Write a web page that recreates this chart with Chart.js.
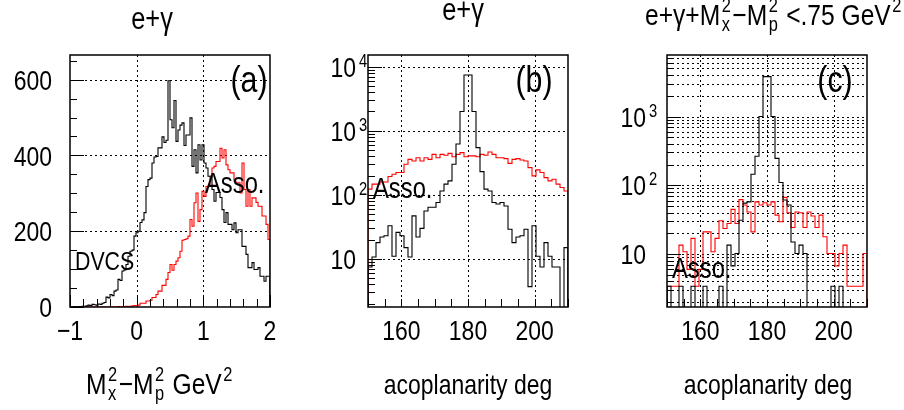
<!DOCTYPE html>
<html><head><meta charset="utf-8">
<script src="https://cdn.jsdelivr.net/npm/chart.js@4/dist/chart.umd.min.js"></script>
<style>
html,body{margin:0;padding:0;background:#fff;width:904px;height:410px;overflow:hidden}
canvas{position:absolute;top:0}
</style></head><body>
<canvas id="pa" style="left:0px" width="300" height="410"></canvas>
<canvas id="pb" style="left:300px" width="300" height="410"></canvas>
<canvas id="pc" style="left:600px" width="304" height="410"></canvas>
<script>
// ---------------- data ----------------
const massRange = [-1, 2];          // Mx^2 - Mp^2 (GeV^2), 100 bins
const dvcsCounts = [
  0,0,1,0,1,1,2,2,3,5,
  4,7,6,5,8,7,10,12,26,24,
  33,30,42,45,73,70,95,98,112,134,
  147,150,187,196,200,223,230,249,318,336,
  340,380,396,397,420,420,449,434,440,597,
  494,473,545,437,467,480,486,426,454,454,
  499,371,415,354,428,388,428,380,367,345,
  345,310,279,302,302,289,257,223,249,218,
  218,204,222,196,204,204,160,160,139,104,
  104,117,99,99,104,81,81,68,81,81];
const assoCounts = [
  0,0,0,0,0,0,0,0,0,0,
  0,0,0,0,0,0,0,0,0,0,
  0,0,0,0,1,0,1,1,2,1,
  2,3,4,4,5,10,10,10,16,16,
  18,25,25,33,42,42,57,57,73,91,
  112,97,112,121,130,147,176,178,180,187,
  231,213,275,301,226,257,305,292,318,318,
  345,367,371,384,384,419,393,415,375,362,
  354,354,332,328,328,301,380,310,266,310,
  266,288,288,276,266,266,240,240,218,178];
const acopRange = [150, 210];       // acoplanarity (deg), 50 bins
const acopAll = [
  7.5,10.7,18,22,23,33,11,26,23,15,
  10.7,47,22,30,56,64,64,76,115,147,
  165,300,620,2000,7400,7400,2000,545,230,123,
  115,76,72,76,67,29,18,22,23,29,
  3.7,33,11,7.5,18,11,7.5,7.5,1,15];
const acopAsso = [
  123,147,147,159,159,193,210,223,223,300,
  358,337,380,337,380,358,428,380,428,414,
  444,394,428,456,394,405,405,394,428,414,
  466,428,380,380,367,310,358,367,349,337,
  266,198,245,223,186,165,175,147,130,115];
const acopCutAll = [
  3.4,0,0,3.4,0,0,3.4,0,0,3.4,
  0,0,0,3.4,0,13.5,6.7,10.2,31,55,
  57.5,145,265,1000,3800,3800,1000,246,110,61,
  51.6,15,10.2,13.5,10.2,0,0,0,0,0,
  0,3.4,0,3.4,0,0,0,0,0,0];
const acopCutAsso = [
  3.4,3.4,3.4,13.5,10.8,6.0,16.9,3.4,6.0,21,
  21,10.8,16.9,30.5,23.6,27.9,44.6,27.9,62,51.6,
  41,21,57.5,51.6,55.7,51.6,57.5,36.9,29.5,66.7,
  39.8,24.4,41,39.8,24.4,41,35.7,24.4,36.9,17.9,
  10.2,10.2,6.7,10.2,13.5,3.4,3.4,3.4,3.4,10.2];
const massTicks = [-1, 0, 1, 2];
const massTickLabels = ['\u22121', '0', '1', '2'];
const countTicks = [0, 200, 400, 600];
const acopTicks = [160, 180, 200];
const logTicksB = [10, 100, 1000, 10000];
const logTicksC = [10, 100, 1000];

// ---------------- fonts ----------------
let FAM = "'Liberation Sans Narrow', 'Liberation Sans', Arial, sans-serif", SX = 1;
(function () {
  const c = document.createElement('canvas').getContext('2d');
  c.font = "40px 'Liberation Sans Narrow', monospace";
  const a = c.measureText('acoplanarity 0123').width;
  c.font = "40px monospace";
  const b = c.measureText('acoplanarity 0123').width;
  if (Math.abs(a - b) < 0.5) { FAM = "'Liberation Sans', Arial, sans-serif"; SX = 0.82; }
})();
function tw(ctx, s, size) { ctx.font = size + 'px ' + FAM; return ctx.measureText(s).width * SX; }
function dt(ctx, s, x, base, size) {
  ctx.save(); ctx.font = size + 'px ' + FAM; ctx.textAlign = 'left'; ctx.textBaseline = 'alphabetic';
  ctx.fillStyle = '#000'; ctx.translate(x, base); ctx.scale(SX, 1); ctx.fillText(s, 0, 0); ctx.restore();
}
// parts: strings, or {sup, sub} stacked
function rich(ctx, parts, x, base, size, align) {
  const sm = Math.round(size * 0.66);
  const w = parts.map(p => typeof p === 'string' ? tw(ctx, p, size)
    : Math.max(p.sub ? tw(ctx, p.sub, sm) : 0, p.sup ? tw(ctx, p.sup, sm) : 0) + 3);
  const total = w.reduce((a, b) => a + b, 0);
  let cx = align === 'center' ? x - total / 2 : align === 'right' ? x - total : x;
  parts.forEach((p, i) => {
    if (typeof p === 'string') dt(ctx, p, cx, base, size);
    else {
      if (p.sup) dt(ctx, p.sup, cx + 1.5, base - size * 0.45, sm);
      if (p.sub) dt(ctx, p.sub, cx + 1.5, base + size * 0.2, sm);
    }
    cx += w[i];
  });
}

// ---------------- helpers ----------------
function hist(counts, range, color, isLog) {
  const n = counts.length, lo = range[0], hi = range[1], w = (hi - lo) / n;
  const floor = isLog ? 1e-3 : 0;
  const f = v => (isLog && v <= 0) ? floor : v;
  const pts = [{ x: lo, y: floor }];
  counts.forEach((v, i) => pts.push({ x: lo + i * w, y: f(v) }));
  pts.push({ x: hi, y: f(counts[n - 1]) });
  pts.push({ x: hi, y: floor });
  return { data: pts, borderColor: color, borderWidth: 1.1, stepped: 'before',
           pointRadius: 0, fill: false, tension: 0 };
}
function logVals(min, max) {
  const out = [];
  for (let e = Math.floor(Math.log10(min)); e <= Math.ceil(Math.log10(max)); e++)
    for (let d = 1; d <= 9; d++) { const v = d * Math.pow(10, e); if (v >= min && v <= max) out.push({ v, major: d === 1 }); }
  return out;
}
function seq(a, b, s) { const o = []; for (let v = a; v <= b + 1e-9; v += s) o.push(+v.toFixed(6)); return o; }

const FS = 28;
const panelPlugin = {
  id: 'panel',
  beforeDatasetsDraw(chart, args, o) {
    const { ctx, chartArea: a, scales: { x, y } } = chart;
    ctx.save(); ctx.strokeStyle = '#000'; ctx.lineWidth = 1; ctx.setLineDash([2, 3]);
    o.gridX.forEach(v => { const p = Math.round(x.getPixelForValue(v)) + 0.5;
      ctx.beginPath(); ctx.moveTo(p, a.top); ctx.lineTo(p, a.bottom); ctx.stroke(); });
    o.gridY.forEach(v => { const p = Math.round(y.getPixelForValue(v)) + 0.5;
      ctx.beginPath(); ctx.moveTo(a.left, p); ctx.lineTo(a.right, p); ctx.stroke(); });
    ctx.restore();
  },
  afterDatasetsDraw(chart, args, o) {
    const { ctx, chartArea: a, scales: { x, y } } = chart;
    ctx.save(); ctx.strokeStyle = '#000'; ctx.setLineDash([]);
    ctx.lineWidth = 1;
    o.yTicks.forEach(t => { const p = Math.round(y.getPixelForValue(t.v)) + 0.5;
      ctx.beginPath(); ctx.moveTo(a.left, p); ctx.lineTo(a.left + (t.major ? 14 : 7), p); ctx.stroke(); });
    o.xTicks.forEach(t => { const p = Math.round(x.getPixelForValue(t.v)) + 0.5;
      ctx.beginPath(); ctx.moveTo(p, a.bottom); ctx.lineTo(p, a.bottom - (t.major ? 12 : 8)); ctx.stroke(); });
    ctx.lineWidth = 1.5;
    ctx.strokeRect(a.left, a.top, a.right - a.left, a.bottom - a.top);
    ctx.restore();
    // tick labels
    o.xLabels.forEach(t => rich(ctx, [t.text], x.getPixelForValue(t.v), 340, FS, 'center'));
    if (o.yLog) {
      o.yLabels.forEach(v => {
        const p = y.getPixelForValue(v), base = p + FS * 0.36;
        const e = Math.round(Math.log10(v));
        const rx = a.left - o.baseGap;
        dt(ctx, '10', rx - tw(ctx, '10', FS), base, FS);
        if (e > 1) dt(ctx, String(e), rx + 3, base - 10, 18);
      });
    } else {
      o.yLabels.forEach(v => rich(ctx, [String(v)], a.left - 18, y.getPixelForValue(v) + FS * 0.36, FS, 'right'));
    }
    // titles and notes
    o.texts.forEach(t => rich(ctx, t.parts, t.x, t.base, t.size || FS, t.align || 'left'));
  }
};

function makeChart(id, cfg) {
  return new Chart(document.getElementById(id), {
    type: 'line',
    data: { datasets: cfg.datasets },
    options: {
      responsive: false, animation: false, events: [],
      layout: { padding: { left: 0, right: cfg.rightPad, top: 55, bottom: 0 } },
      plugins: { legend: { display: false }, tooltip: { enabled: false }, panel: cfg.panel },
      scales: {
        x: { type: 'linear', min: cfg.xMin, max: cfg.xMax, grid: { display: false }, border: { display: false },
             ticks: { display: false }, afterFit: s => { s.height = 103; } },
        y: { type: cfg.yType, min: cfg.yMin, max: cfg.yMax, grid: { display: false }, border: { display: false },
             ticks: { display: false }, afterFit: s => { s.width = cfg.leftW; } }
      }
    },
    plugins: [panelPlugin]
  });
}

// ---------- panel (a) ----------
makeChart('pa', {
  xMin: massRange[0], xMax: massRange[1], yType: 'linear', yMin: 0, yMax: 665, leftW: 70, rightPad: 30,
  datasets: [hist(dvcsCounts, massRange, '#000', false), hist(assoCounts, massRange, '#ff0000', false)],
  panel: {
    gridX: [0, 1], gridY: [200, 400, 600],
    yTicks: seq(0, 650, 50).map(v => ({ v, major: v % 200 === 0 })),
    xTicks: seq(-1, 2, 0.2).map(v => ({ v, major: Math.abs(v - Math.round(v)) < 1e-6 })),
    xLabels: massTicks.map((v, i) => ({ v, text: massTickLabels[i] })),
    yLog: false, yLabels: countTicks,
    texts: [
      { parts: ['e+\u03b3'], x: 152, base: 29, size: 31, align: 'center' },
      { parts: ['M', { sub: 'x', sup: '2' }, '\u2212M', { sub: 'p', sup: '2' }, ' GeV', { sup: '2' }], x: 160, base: 394, size: 30, align: 'center' },
      { parts: ['(a)'], x: 249, base: 92, size: 37, align: 'center' },
      { parts: ['Asso.'], x: 205, base: 193, size: 29 },
      { parts: ['DVCS'], x: 75, base: 270, size: 26 }
    ]
  }
});

// ---------- panel (b) ----------
const lvB = logVals(1.78, 15200);
makeChart('pb', {
  xMin: acopRange[0], xMax: acopRange[1], yType: 'logarithmic', yMin: 1.78, yMax: 15200, leftW: 68, rightPad: 32,
  datasets: [hist(acopAll, acopRange, '#000', true), hist(acopAsso, acopRange, '#ff0000', true)],
  panel: {
    gridX: acopTicks, gridY: logTicksB, baseGap: 12,
    yTicks: lvB, xTicks: seq(150, 210, 5).map(v => ({ v, major: false })),
    xLabels: acopTicks.map(v => ({ v, text: String(v) })),
    yLog: true, yLabels: logTicksB,
    texts: [
      { parts: ['e+\u03b3'], x: 163, base: 20, size: 31, align: 'center' },
      { parts: ['acoplanarity deg'], x: 168, base: 394, align: 'center' },
      { parts: ['(b)'], x: 234, base: 92, size: 37, align: 'center' },
      { parts: ['Asso.'], x: 73, base: 198, size: 29 }
    ]
  }
});

// ---------- panel (c) ----------
const lvC = logVals(1.7, 7850);
makeChart('pc', {
  xMin: acopRange[0], xMax: acopRange[1], yType: 'logarithmic', yMin: 1.7, yMax: 7850, leftW: 67, rightPad: 37,
  datasets: [hist(acopCutAll, acopRange, '#000', true), hist(acopCutAsso, acopRange, '#ff0000', true)],
  panel: {
    gridX: acopTicks, gridY: lvC.map(t => t.v), baseGap: 21,
    yTicks: lvC, xTicks: seq(150, 210, 5).map(v => ({ v, major: false })),
    xLabels: acopTicks.map(v => ({ v, text: String(v) })),
    yLog: true, yLabels: logTicksC,
    texts: [
      { parts: ['e+\u03b3+M', { sub: 'x', sup: '2' }, '\u2212M', { sub: 'p', sup: '2' }, ' <.75 GeV', { sup: '2' }], x: 45, base: 25, size: 30 },
      { parts: ['acoplanarity deg'], x: 168, base: 394, align: 'center' },
      { parts: ['(c)'], x: 235, base: 92, size: 37, align: 'center' },
      { parts: ['Asso.'], x: 72, base: 278, size: 29 }
    ]
  }
});
</script>
</body></html>
